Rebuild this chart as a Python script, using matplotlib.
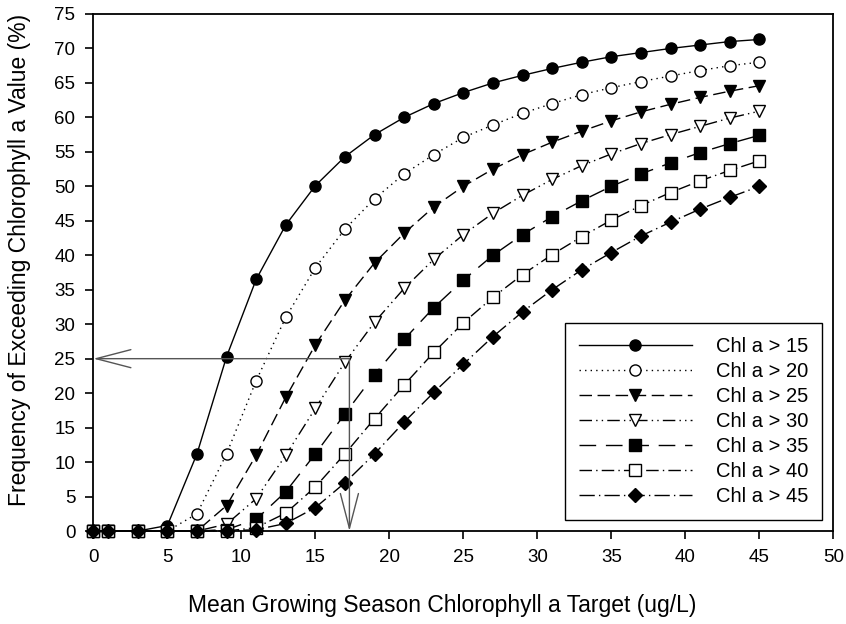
import numpy as np
import matplotlib
matplotlib.use("Agg")
import matplotlib.pyplot as plt

plt.rcParams["font.family"] = ["Liberation Sans", "DejaVu Sans"]

# mean growing season chl a target (ug/L)
target = [0, 1, 3, 5, 7, 9, 11, 13, 15, 17, 19, 21, 23, 25, 27, 29, 31, 33, 35, 37, 39, 41, 43, 45]

# frequency (%) of exceeding each threshold
chl15 = [0, 0, 0, 0.8, 11.2, 25.3, 36.5, 44.4, 50.1, 54.3, 57.5, 60.0, 62.0, 63.6, 65.0, 66.1,
         67.1, 68.0, 68.8, 69.4, 70.0, 70.5, 71.0, 71.3]
chl20 = [0, 0, 0, 0, 2.5, 11.2, 21.8, 31.0, 38.2, 43.8, 48.2, 51.8, 54.6, 57.1, 58.9, 60.6,
         62.0, 63.3, 64.3, 65.2, 66.0, 66.8, 67.5, 68.0]
chl25 = [0, 0, 0, 0, 0, 3.7, 11.0, 19.4, 27.0, 33.5, 38.9, 43.2, 47.0, 50.0, 52.5, 54.6,
         56.4, 58.0, 59.5, 60.8, 61.9, 62.9, 63.8, 64.6]
chl30 = [0, 0, 0, 0, 0, 1.0, 4.7, 11.0, 17.8, 24.5, 30.3, 35.2, 39.4, 43.0, 46.1, 48.7,
         51.0, 53.0, 54.7, 56.2, 57.5, 58.7, 59.9, 60.9]
chl35 = [0, 0, 0, 0, 0, 0.2, 1.7, 5.7, 11.2, 17.0, 22.7, 27.8, 32.4, 36.4, 40.0, 43.0,
         45.6, 47.9, 50.0, 51.8, 53.4, 54.9, 56.2, 57.4]
chl40 = [0, 0, 0, 0, 0, 0, 0.5, 2.6, 6.4, 11.2, 16.3, 21.2, 25.9, 30.2, 33.9, 37.2,
         40.1, 42.7, 45.1, 47.2, 49.1, 50.8, 52.3, 53.7]
chl45 = [0, 0, 0, 0, 0, 0, 0.2, 1.1, 3.4, 7.0, 11.2, 15.8, 20.1, 24.2, 28.2, 31.8,
         35.0, 37.9, 40.4, 42.8, 44.8, 46.7, 48.4, 50.0]

labels = ["Chl a > 15", "Chl a > 20", "Chl a > 25", "Chl a > 30",
          "Chl a > 35", "Chl a > 40", "Chl a > 45"]

# example read-off: target for 25 % exceedance of 30 ug/L
read_x, read_y = 17.3, 25

series = [chl15, chl20, chl25, chl30, chl35, chl40, chl45]
styles = [
    ("o", "k", "-"),
    ("o", "w", (0, (1, 3))),
    ("v", "k", (0, (9, 4))),
    ("v", "w", (0, (9, 3, 1, 3, 1, 3))),
    ("s", "k", (0, (12, 7))),
    ("s", "w", (0, (9, 3, 1, 3))),
    ("D", "k", (0, (11, 3, 1, 3))),
]

fig = plt.figure(figsize=(8.46, 6.24), dpi=100)
ax = fig.add_axes([0.1104, 0.149, 0.8746, 0.8286])

for y, lab, (mk, fc, ls) in zip(series, labels, styles):
    ax.plot(target, y, color="k", lw=1.0, linestyle=ls, marker=mk, markersize=8 if mk != "D" else 7.5,
            markerfacecolor=fc, markeredgecolor="k", markeredgewidth=1.0, label=lab, clip_on=False)

arrow = dict(arrowstyle="->,head_length=2.5,head_width=0.65", mutation_scale=10,
             color="#555555", lw=1.0, shrinkA=0, shrinkB=0)
ax.annotate("", xy=(0, read_y), xytext=(read_x, read_y), arrowprops=arrow)
ax.annotate("", xy=(read_x, 0), xytext=(read_x, read_y), arrowprops=arrow)

ax.set_xlim(0, 50)
ax.set_ylim(0, 75)
ax.set_xticks(np.arange(0, 51, 5))
ax.set_yticks(np.arange(0, 76, 5))
ax.tick_params(direction="out", length=6, width=1.2, labelsize=13.5, top=False, right=False, pad=7)
for s in ax.spines.values():
    s.set_linewidth(1.3)

ax.set_xlabel("Mean Growing Season Chlorophyll a Target (ug/L)", fontsize=16.5)
ax.set_ylabel("Frequency of Exceeding Chlorophyll a Value (%)", fontsize=16.5)
ax.xaxis.set_label_coords(0.471, -0.122)
ax.yaxis.set_label_coords(-0.084, 0.524)

leg = ax.legend(loc="lower right", bbox_to_anchor=(0.985, 0.021), fontsize=14.5, numpoints=1,
                handlelength=5.6, handletextpad=1.2, labelspacing=0.3, borderpad=0.7,
                fancybox=False, framealpha=1, edgecolor="k", borderaxespad=0)
leg.get_frame().set_linewidth(1.0)

fig.savefig("out.png", dpi=100)
